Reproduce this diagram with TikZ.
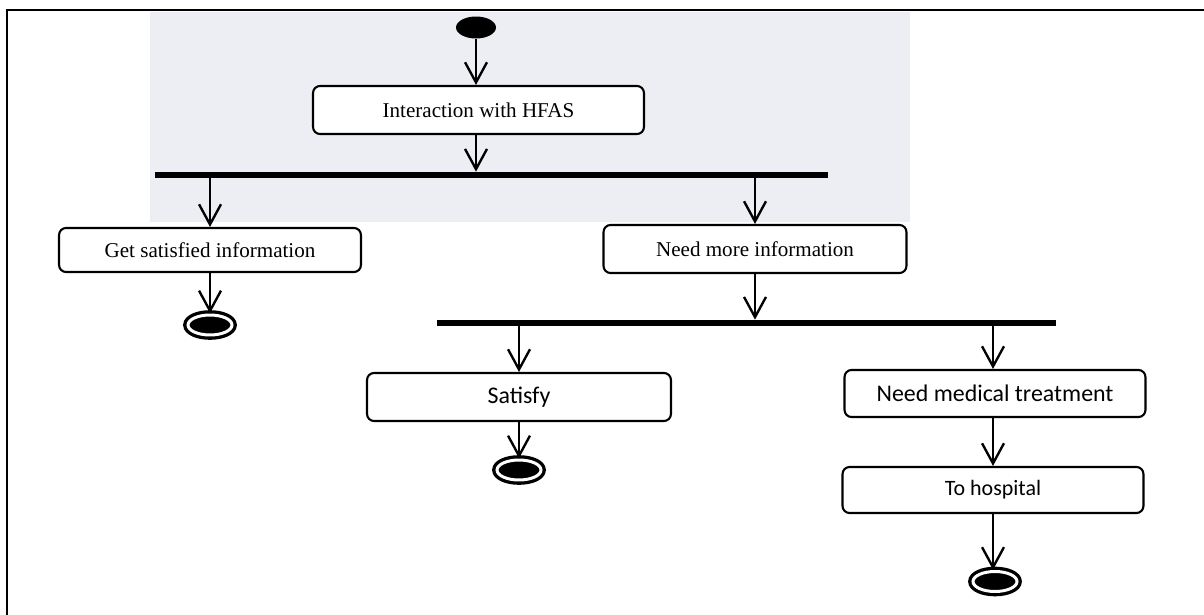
\documentclass[tikz,border=0pt]{standalone}
\usepackage{fontspec}
\setmainfont{Liberation Serif}
\newfontfamily\calfont{Carlito}
\usetikzlibrary{arrows.meta,shapes.geometric}
\definecolor{wmcol}{RGB}{236,238,243}
\begin{document}
\begin{tikzpicture}[x=0.02cm,y=-0.02cm,
  box/.style={draw,line width=1.2pt,rounded corners=4pt,rectangle,inner sep=0pt,align=center,fill=white},
  serifbox/.style={box,font=\fontsize{12pt}{14pt}\selectfont},
  sansbox/.style={box,font=\calfont\fontsize{13.6pt}{16pt}\selectfont},
  arr/.style={line width=1.35pt,-{Straight Barb[length=11.5pt,width=12.5pt]}},
  bar/.style={fill=black,inner sep=0pt,minimum height=0.12cm},
  startnode/.style={ellipse,fill=black,inner sep=0pt,minimum width=0.8cm,minimum height=0.44cm},
  endnode/.style={ellipse,fill=black,draw=black,double=white,line width=1.9pt,double distance=1.7pt,inner sep=0pt,minimum width=0.88cm,minimum height=0.4cm}]
\useasboundingbox (0,0) rectangle (1204,615);
% faint background
\fill[wmcol] (150,12) rectangle (910,222);
% frame
\draw[line width=1.2pt] (1204,10) -- (7,10) -- (7,615);
% nodes
\node[startnode] (start) at (476,27.5) {};
\node[serifbox,minimum width=6.62cm,minimum height=0.96cm] (box1) at (478.5,110) {Interaction with HFAS};
\node[bar,minimum width=13.46cm] (bar1) at (491.5,175) {};
\node[serifbox,minimum width=6.04cm,minimum height=0.88cm] (lbox) at (210,250) {Get satisfied information};
\node[serifbox,minimum width=6.06cm,minimum height=0.96cm] (rbox) at (755,249) {Need more information};
\node[endnode] (end1) at (210,325) {};
\node[bar,minimum width=12.38cm] (bar2) at (746.5,323) {};
\node[sansbox,minimum width=6.08cm,minimum height=0.96cm] (sat) at (519,397) {Satisfy};
\node[endnode] (end2) at (519,470) {};
\node[sansbox,minimum width=6.02cm,minimum height=0.94cm] (med) at (995,393.5) {Need medical treatment};
\node[box,font=\calfont\fontsize{12.5pt}{15pt}\selectfont,minimum width=6.02cm,minimum height=0.92cm] (hosp) at (993,490) {To hospital};
\node[endnode] (end3) at (995,581.5) {};
% connectors
\draw[arr] (start.south) -- (start.south |- box1.north);
\draw[arr] (start.south |- box1.south) -- (start.south |- bar1.north);
\draw[arr] (lbox.north |- bar1.south) -- (lbox.north);
\draw[arr] (rbox.north |- bar1.south) -- (rbox.north);
\draw[arr] (lbox.south) -- (end1.north);
\draw[arr] (rbox.south) -- (rbox.south |- bar2.north);
\draw[arr] (sat.north |- bar2.south) -- (sat.north);
\draw[arr] (hosp.north |- bar2.south) -- (hosp.north |- med.north);
\draw[arr] (sat.south) -- (end2.north);
\draw[arr] (hosp.north |- med.south) -- (hosp.north);
\draw[arr] (hosp.south) -- (hosp.south |- end3.north);
\end{tikzpicture}
\end{document}
